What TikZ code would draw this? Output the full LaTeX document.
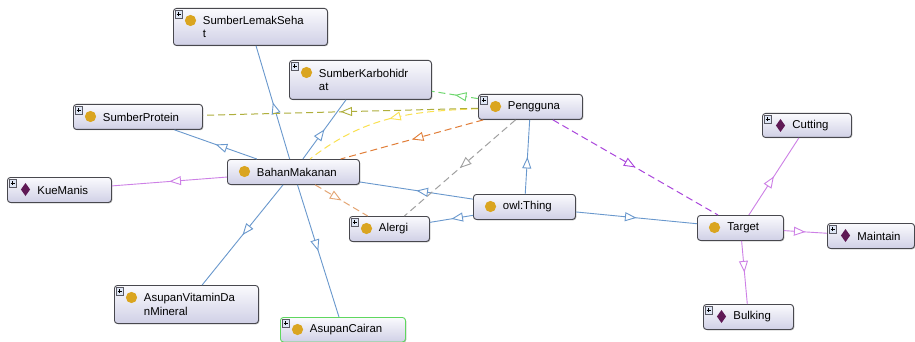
\documentclass[tikz,border=0pt]{standalone}
\usepackage{fontspec}
\setmainfont{Liberation Sans}
\usetikzlibrary{arrows.meta,decorations.markings,shadows,calc}
\definecolor{edgeblue}{RGB}{105,152,205}
\definecolor{indviolet}{RGB}{205,128,230}
\definecolor{nodetop}{RGB}{250,250,253}
\definecolor{nodebot}{RGB}{208,208,230}
\definecolor{nodeborder}{RGB}{72,72,78}
\definecolor{iconorange}{RGB}{218,165,32}
\definecolor{diamondcol}{RGB}{95,25,85}
\definecolor{acgreen}{RGB}{95,215,95}
\definecolor{greenc}{RGB}{110,215,110}
\definecolor{yellowc}{RGB}{250,225,80}
\definecolor{olivec}{RGB}{175,175,60}
\definecolor{orangec}{RGB}{225,125,55}
\definecolor{grayc}{RGB}{160,160,160}
\definecolor{purplec}{RGB}{170,70,220}
\definecolor{tanc}{RGB}{228,165,115}
\tikzset{
  cls/.style={draw=nodeborder, line width=0.9pt, rounded corners=3pt,
    top color=nodetop, bottom color=nodebot, anchor=north west,
    inner xsep=0pt, inner ysep=0pt, align=left,
    font=\fontsize{11.4}{13.5}\selectfont,
    drop shadow={shadow xshift=0.8pt,shadow yshift=-0.8pt,opacity=0.3,fill=black}},
  sz/.style 2 args={text width=#1, minimum width=#1, minimum height=#2},
  midarrow/.style={postaction={decorate}, decoration={markings,
    mark=at position 0.5 with {\arrow{Triangle[length=11.5pt,width=9pt,fill=white,line width=0.9pt]}}}},
  isa/.style={color=edgeblue, line width=0.9pt, midarrow},
  ind/.style={color=indviolet, line width=0.9pt, midarrow},
  prop/.style={color=#1, line width=1pt, dash pattern=on 7pt off 4pt, midarrow},
}
\newcommand\lbl[2][29.5pt]{\leftskip=#1\relax #2\par}
\newcommand\plusicon[1]{%
  \draw[draw={rgb,255:red,90;green,90;blue,100},fill={rgb,255:red,222;green,230;blue,245},line width=0.5pt,rounded corners=0pt]
    ($(#1.north west)+(2,2.5)$) rectangle ++(7.5,7.5);
  \draw[line width=0.7pt] ($(#1.north west)+(3.8,6.25)$) -- ++(3.9,0)
    ($(#1.north west)+(5.75,4.3)$) -- ++(0,3.9);}
\newcommand\clsicon[1]{\fill[iconorange] ($(#1.north west)+(17.5,12.5)$) circle (5.6pt);}
\newcommand\indicon[1]{\fill[diamondcol] ($(#1.north west)+(18.5,12.5)$) +(0,-6.5) -- +(4.6,0) -- +(0,6.5) -- +(-4.6,0) -- cycle;}
\begin{document}
\begin{tikzpicture}[x=1pt,y=-1pt]
\fill[white] (0,0) rectangle (915,342);
\useasboundingbox (0,0) rectangle (915,342);
% nodes
\node[cls, sz={154pt}{37pt}] (slm) at (173,8) {\lbl{SumberLemakSeha\\t}};
\node[cls, sz={142pt}{39pt}] (skh) at (289,60) {\lbl{SumberKarbohidr\\at}};
\node[cls, sz={129pt}{25pt}] (sp) at (73,104) {\lbl{SumberProtein}};
\node[cls, sz={104pt}{25pt}] (km) at (7,177) {\lbl[30pt]{KueManis}};
\node[cls, sz={132pt}{25pt}] (bm) at (227,159) {\lbl{BahanMakanan}};
\node[cls, sz={80pt}{25pt}] (al) at (349,216) {\lbl{Alergi}};
\node[cls, sz={102pt}{25pt}] (th) at (473,194) {\lbl{owl:Thing}};
\node[cls, sz={104pt}{25pt}] (pg) at (478,94) {\lbl{Pengguna}};
\node[cls, sz={86pt}{25pt}] (tg) at (697,215) {\lbl[30pt]{Target}};
\node[cls, sz={89pt}{24pt}] (cut) at (762,113) {\lbl[30pt]{Cutting}};
\node[cls, sz={87pt}{25pt}] (mt) at (827,223) {\lbl[30pt]{Maintain}};
\node[cls, sz={90pt}{25pt}] (bk) at (703,304) {\lbl[30pt]{Bulking}};
\node[cls, sz={144pt}{38pt}] (avdm) at (114,285) {\lbl{AsupanVitaminDa\\nMineral}};
\node[cls, sz={125pt}{24.5pt}, draw=acgreen] (ac) at (280,317) {\lbl{AsupanCairan}};
% icons
\foreach \n in {slm,skh,sp,bm,al,th,pg,tg,avdm,ac} {\clsicon{\n}}
\foreach \n in {km,cut,mt,bk} {\indicon{\n}}
\foreach \n in {slm,skh,sp,km,al,pg,cut,mt,bk,avdm,ac} {\plusicon{\n}}
% subclass edges
\draw[isa] (th) -- (pg);
\draw[isa] (th) -- (bm);
\draw[isa] (th) -- (al);
\draw[isa] (th) -- (tg);
\draw[isa] (bm) -- (slm);
\draw[isa] (bm) -- (skh);
\draw[isa] (bm) -- (sp);
\draw[isa] (bm) -- (avdm);
\draw[isa] (bm) -- (ac);
% individual edges
\draw[ind] (bm) -- (km);
\draw[ind] (tg) -- (cut);
\draw[ind] (tg) -- (mt);
\draw[ind] (tg) -- (bk);
% property edges
\draw[prop=greenc] (pg) -- (skh);
\draw[prop=yellowc] (pg) to[out=182,in=38] (bm);
\draw[prop=olivec] (pg) -- (sp);
\draw[prop=orangec] (pg) -- (bm);
\draw[prop=grayc] (pg) -- (al);
\draw[prop=purplec] (pg) -- (tg);
\draw[prop=tanc] (bm) -- (al);
\end{tikzpicture}
\end{document}
